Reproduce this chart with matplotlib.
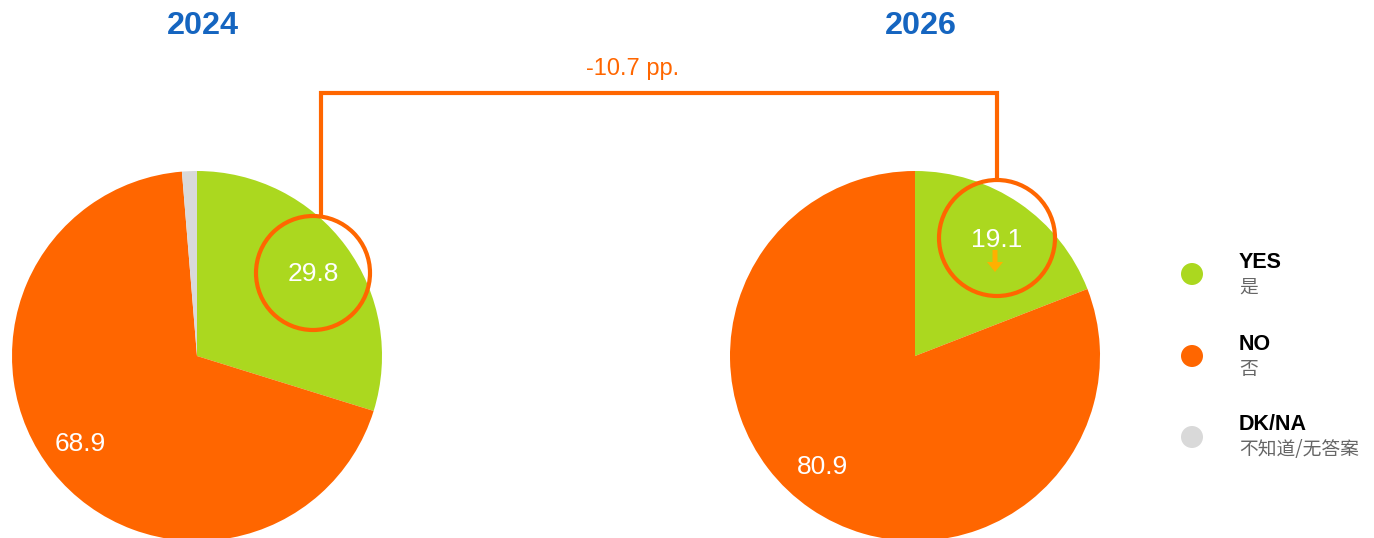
import matplotlib
matplotlib.use("Agg")
import matplotlib.pyplot as plt
from matplotlib.patches import Circle, FancyArrow

years = ["2024", "2026"]
categories = ["YES", "NO", "DK/NA"]
categories_zh = ["是", "否", "不知道/无答案"]
values_2024 = [29.8, 68.9, 1.3]
values_2026 = [19.1, 80.9, 0.0]
change_label = "-10.7 pp."

GREEN = "#ABD81F"
ORANGE = "#FF6600"
GRAY = "#D9D9D9"
BLUE = "#1565C0"
ARROW = "#FFB000"
colors = [GREEN, ORANGE, GRAY]

plt.rcParams['font.family'] = ['Liberation Sans', 'Noto Sans CJK SC', 'DejaVu Sans']

W, H = 1374, 538
fig = plt.figure(figsize=(W / 100, H / 100), dpi=100)
ax = fig.add_axes([0, 0, 1, 1])

def Y(py):
    return H - py

R = 185
centers = [(197, Y(356)), (915, Y(356))]
for vals, c in zip([values_2024, values_2026], centers):
    ax.pie(vals, colors=colors, startangle=90, counterclock=False,
           center=c, radius=R, wedgeprops=dict(linewidth=0))

ax.set_xlim(0, W)
ax.set_ylim(0, H)
ax.set_aspect('equal')
ax.axis('off')

# titles
ax.text(203, Y(26), years[0], color=BLUE, fontsize=23.3, fontweight='bold', ha='center', va='center')
ax.text(921, Y(26), years[1], color=BLUE, fontsize=23.3, fontweight='bold', ha='center', va='center')

# value labels
fs = 19
ax.text(313, Y(274), f"{values_2024[0]}", color='white', fontsize=fs, ha='center', va='center')
ax.text(80, Y(444), f"{values_2024[1]}", color='white', fontsize=fs, ha='center', va='center')
ax.text(997, Y(240), f"{values_2026[0]}", color='white', fontsize=fs, ha='center', va='center')
ax.text(823, Y(467), f"{values_2026[1]}", color='white', fontsize=fs, ha='center', va='center')

# highlight circles
ax.add_patch(Circle((313, Y(273)), 57, fill=False, edgecolor=ORANGE, linewidth=3))
ax.add_patch(Circle((997, Y(238)), 58, fill=False, edgecolor=ORANGE, linewidth=3))

# connector
ax.plot([321, 321, 997, 997], [Y(215), Y(93), Y(93), Y(180)], color=ORANGE,
        linewidth=3, solid_joinstyle='miter', solid_capstyle='butt')
ax.text(633, Y(69), change_label, color=ORANGE, fontsize=17, ha='center', va='center')

# down arrow
ax.add_patch(FancyArrow(995, Y(250), 0, -22, width=5, head_width=16, head_length=10,
                        length_includes_head=True, color=ARROW, linewidth=0))

# legend
leg_y = [274, 356, 437]
for cat, zh, col, ly in zip(categories, categories_zh, colors, leg_y):
    ax.add_patch(Circle((1192, Y(ly)), 11, color=col, linewidth=0))
    ax.text(1239, Y(ly - 12), cat, color='black', fontsize=15.5, fontweight='bold', ha='left', va='center')
    ax.text(1239, Y(ly + 13), zh, color='#666666', fontsize=13.5, ha='left', va='center',
            family=['Noto Sans CJK SC', 'DejaVu Sans'])

fig.savefig("out.png", dpi=100)
